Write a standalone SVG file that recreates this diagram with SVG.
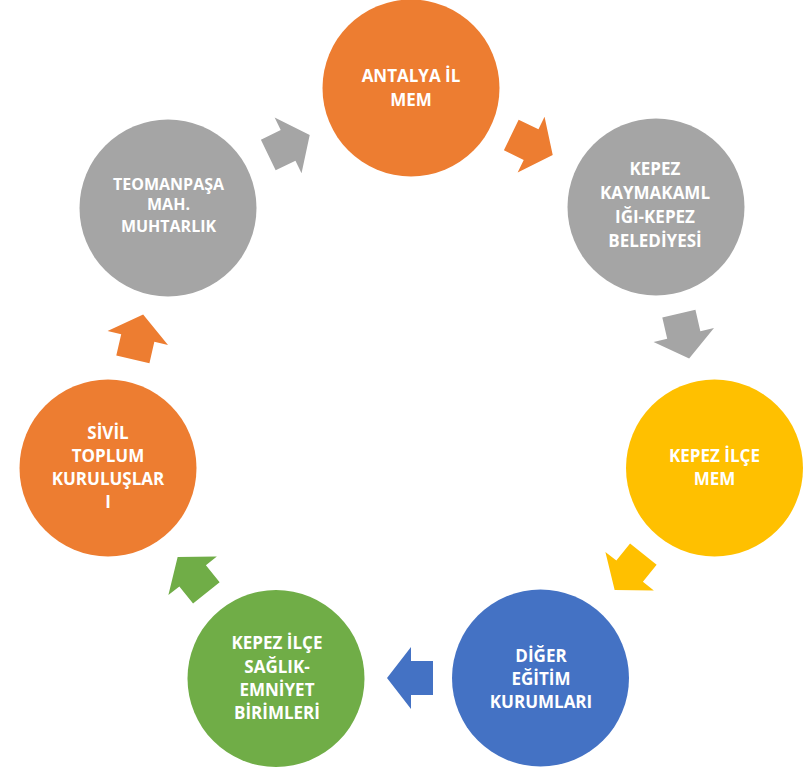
<svg xmlns="http://www.w3.org/2000/svg" width="807" height="772" viewBox="0 0 807 772">
<style>
.t{font-family:"Open Sans","Noto Sans","DejaVu Sans",sans-serif;font-weight:bold;font-size:17px;fill:#FFFFFF;text-anchor:middle}
.s{font-size:16px}
.orange{fill:#ED7D31}
.gray{fill:#A5A5A5}
.yellow{fill:#FFC000}
.blue{fill:#4472C4}
.green{fill:#70AD47}
</style>
<defs>
<polygon id="arr" points="23,0 -1,-31 -1,-17 -23,-17 -23,17 -1,17 -1,31"/>
</defs>
<rect width="807" height="772" fill="#FFFFFF"/>
<g id="connectors">
<use href="#arr" class="orange" transform="translate(532,145) rotate(25.7)"/>
<use href="#arr" class="gray" transform="translate(684,336) rotate(77.1)"/>
<use href="#arr" class="yellow" transform="translate(629,572) rotate(128.6)"/>
<use href="#arr" class="blue" transform="translate(410,678) rotate(180)"/>
<use href="#arr" class="green" transform="translate(192,575) rotate(231.4)"/>
<use href="#arr" class="orange" transform="translate(138,337) rotate(282.9)"/>
<use href="#arr" class="gray" transform="translate(289,145) rotate(334.3)"/>
</g>
<g id="antalya">
<circle cx="411" cy="88" r="88.5" class="orange"/>
<text class="t" x="411" y="82">ANTALYA İL</text>
<text class="t" x="411" y="106">MEM</text>
</g>
<g id="kaymakamlik">
<circle cx="656" cy="207" r="88.5" class="gray"/>
<text class="t" x="655" y="175">KEPEZ</text>
<text class="t" x="655" y="199">KAYMAKAML</text>
<text class="t" x="655" y="223">IĞI-KEPEZ</text>
<text class="t" x="655" y="247">BELEDİYESİ</text>
</g>
<g id="ilce-mem">
<circle cx="714.5" cy="468" r="88.5" class="yellow"/>
<text class="t" x="714.5" y="462">KEPEZ İLÇE</text>
<text class="t" x="714.5" y="485">MEM</text>
</g>
<g id="diger-egitim">
<circle cx="540.5" cy="678" r="88.5" class="blue"/>
<text class="t" x="541" y="662">DİĞER</text>
<text class="t" x="541" y="685">EĞİTİM</text>
<text class="t" x="541" y="708">KURUMLARI</text>
</g>
<g id="saglik-emniyet">
<circle cx="276" cy="678.5" r="88.5" class="green"/>
<text class="t" x="277" y="649">KEPEZ İLÇE</text>
<text class="t" x="277" y="673">SAĞLIK-</text>
<text class="t" x="277" y="696">EMNİYET</text>
<text class="t" x="277" y="719">BİRİMLERİ</text>
</g>
<g id="sivil-toplum">
<circle cx="108" cy="468" r="88.5" class="orange"/>
<text class="t" x="108" y="439">SİVİL</text>
<text class="t" x="108" y="462">TOPLUM</text>
<text class="t" x="108" y="485">KURULUŞLAR</text>
<text class="t" x="108" y="508">I</text>
</g>
<g id="teomanpasa">
<circle cx="168" cy="208" r="88.5" class="gray"/>
<text class="t s" x="168.5" y="190">TEOMANPAŞA</text>
<text class="t s" x="168.5" y="210">MAH.</text>
<text class="t s" x="168.5" y="232">MUHTARLIK</text>
</g>
</svg>
